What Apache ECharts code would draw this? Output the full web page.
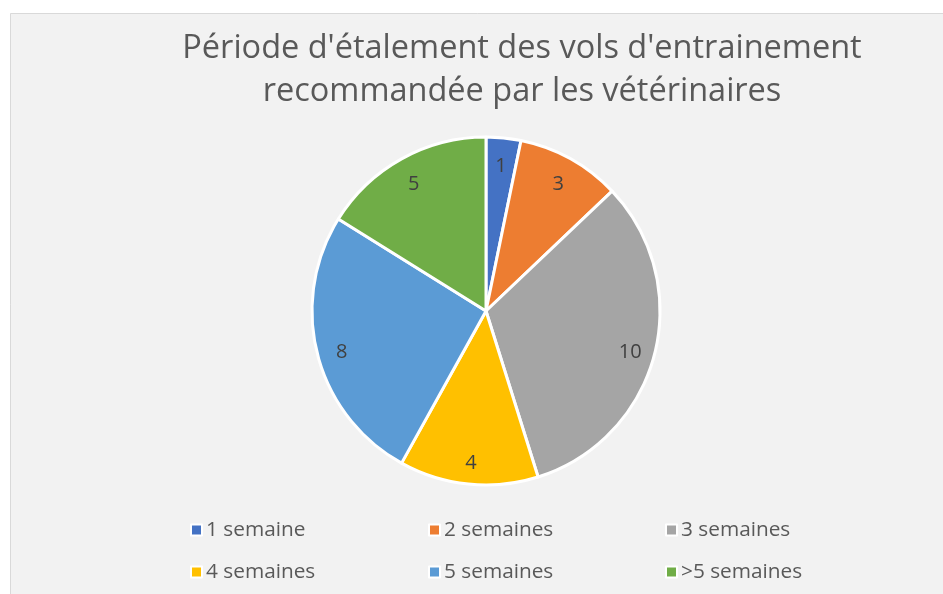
<!DOCTYPE html>
<html>
<head>
<meta charset="utf-8">
<script src="https://cdn.jsdelivr.net/npm/echarts@6/dist/echarts.min.js"></script>
<style>
  html, body { margin: 0; padding: 0; background: #fff; }
  #chart { width: 943px; height: 594px; }
</style>
</head>
<body>
<div id="chart"></div>
<script>
// données
const categories = ['1 semaine', '2 semaines', '3 semaines', '4 semaines', '5 semaines', '>5 semaines'];
const values = [1, 3, 10, 4, 8, 5];
const colors = ['#4472c4', '#ed7d31', '#a5a5a5', '#ffc000', '#5b9bd5', '#70ad47'];
const titleText = "Période d'étalement des vols d'entrainement\nrecommandée par les vétérinaires";

const pieData = categories.map((name, i) => ({ name: name, value: values[i] }));

const font = '"Open Sans", "Noto Sans", sans-serif';

// une légende par colonne (espacement irrégulier comme dans Excel)
const legendCol = (left, names) => ({
  orient: 'vertical',
  left: left,
  top: 514,
  itemGap: 20,
  itemWidth: 11,
  itemHeight: 11,
  icon: 'rect',
  data: names,
  itemStyle: { borderColor: '#ffffff', borderWidth: 2 },
  textStyle: { color: '#595959', fontSize: 20.8, lineHeight: 22, fontFamily: font, padding: [0, 0, 0, -1] }
});

const chart = echarts.init(document.getElementById('chart'));
chart.setOption({
  backgroundColor: 'transparent',
  color: colors,
  animation: false,
  graphic: [{
    type: 'rect',
    z: -10,
    shape: { x: 10.5, y: 13.5, width: 940, height: 590 },
    style: { fill: '#f2f2f2', stroke: '#d9d9d9', lineWidth: 1 }
  }],
  title: {
    text: titleText,
    left: 517,
    top: 22,
    textAlign: 'center',
    textStyle: { color: '#595959', fontSize: 32.5, fontWeight: 'normal', fontFamily: font, lineHeight: 43 }
  },
  legend: [
    legendCol(185, [categories[0], categories[3]]),
    legendCol(423, [categories[1], categories[4]]),
    legendCol(660, [categories[2], categories[5]])
  ],
  series: [
    {
      type: 'pie',
      center: [486, 311],
      radius: [0, 174],
      startAngle: 90,
      clockwise: true,
      data: pieData,
      itemStyle: { borderColor: '#ffffff', borderWidth: 3 },
      label: { show: false },
      labelLine: { show: false },
      emphasis: { scale: false }
    },
    {
      // série transparente qui porte les étiquettes vers le bord
      type: 'pie',
      center: [486, 311],
      radius: [118, 174],
      startAngle: 90,
      clockwise: true,
      silent: true,
      data: pieData,
      itemStyle: { color: 'rgba(0,0,0,0)' },
      label: {
        show: true,
        position: 'inside',
        formatter: '{c}',
        offset: [0, 4],
        color: '#404040',
        fontSize: 20,
        fontFamily: font
      },
      labelLine: { show: false }
    }
  ]
});
</script>
</body>
</html>
